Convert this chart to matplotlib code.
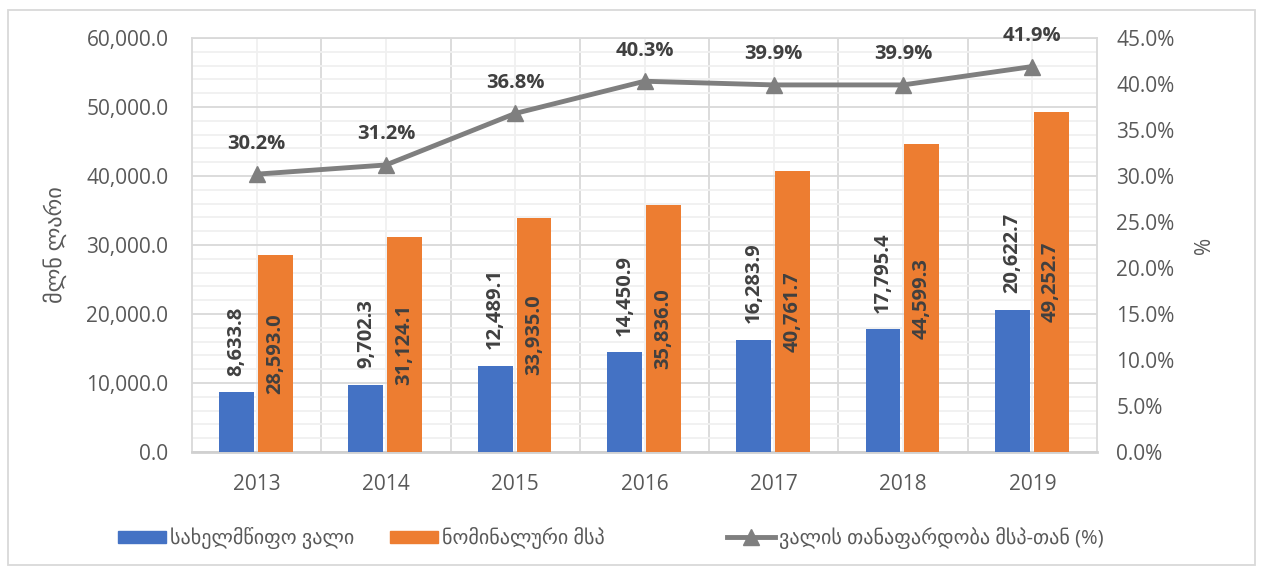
import matplotlib
matplotlib.use("Agg")
import matplotlib.pyplot as plt
from matplotlib.patches import Rectangle
from matplotlib.lines import Line2D
from matplotlib.patches import Patch
from matplotlib.ticker import FuncFormatter, MultipleLocator

plt.rcParams['font.family'] = ['Open Sans', 'DejaVu Sans']

years = ["2013", "2014", "2015", "2016", "2017", "2018", "2019"]
public_debt = [8633.8, 9702.3, 12489.1, 14450.9, 16283.9, 17795.4, 20622.7]
nominal_gdp = [28593.0, 31124.1, 33935.0, 35836.0, 40761.7, 44599.3, 49252.7]
debt_ratio = [30.2, 31.2, 36.8, 40.3, 39.9, 39.9, 41.9]

label_debt = "სახელმწიფო ვალი"
label_gdp = "ნომინალური მსპ"
label_ratio = "ვალის თანაფარდობა მსპ-თან (%)"
ylabel_left = "მლნ ლარი"
ylabel_right = "%"

BLUE = "#4472C4"
ORANGE = "#ED7D31"
GRAY = "#7F7F7F"
TXT = "#595959"
LBL = "#404040"
MAJ = "#D9D9D9"
MIN = "#F0F0F0"

fig = plt.figure(figsize=(12.61, 5.72), dpi=100)
ax = fig.add_axes([192/1261, 1-452/572, (1097-192)/1261, (452-38)/572])
ax2 = ax.twinx()

x = list(range(len(years)))
w = 0.27
xb = [i - 0.155 for i in x]
xo = [i + 0.145 for i in x]
ax.bar(xb, public_debt, width=w, color=BLUE, zorder=3)
ax.bar(xo, nominal_gdp, width=w, color=ORANGE, zorder=3)

ax.set_xlim(-0.5, len(years) - 0.5)
ax.set_ylim(0, 60000)
ax.yaxis.set_major_locator(MultipleLocator(10000))
ax.yaxis.set_minor_locator(MultipleLocator(2000))
ax.yaxis.set_major_formatter(FuncFormatter(lambda v, p: f"{v:,.1f}"))
ax.set_xticks(x)
ax.set_xticklabels(years)
ax.set_xticks([i + 0.5 for i in x[:-1]], minor=True)
ax.set_axisbelow(True)
ax.grid(which='major', axis='y', color=MAJ, lw=1.3, zorder=0)
ax.grid(which='minor', axis='y', color=MIN, lw=1.3, zorder=0)
ax.grid(which='minor', axis='x', color=MAJ, lw=1.3, zorder=0)
ax.grid(which='major', axis='x', color=MIN, lw=1.3, zorder=0)
ax.tick_params(which='both', length=0)
ax.tick_params(axis='y', labelsize=15, colors=TXT, pad=17)
ax.tick_params(axis='x', labelsize=15, colors=TXT, pad=16)
for s in ['left', 'right', 'top']:
    ax.spines[s].set_color(MAJ)
    ax.spines[s].set_linewidth(1.3)
ax.spines['bottom'].set_color("#D0D0D0")
ax.spines['bottom'].set_linewidth(2)
ax.set_ylabel(ylabel_left, fontsize=16, color=TXT, labelpad=14)

for xi, v in zip(xb, public_debt):
    ax.annotate(f"{v:,.1f}", (xi, v), xytext=(0, 12), textcoords='offset points',
                rotation=90, ha='center', va='bottom', fontsize=14.5,
                fontweight='bold', color=LBL, zorder=5)
for xi, v in zip(xo, nominal_gdp):
    ax.text(xi, v / 2, f"{v:,.1f}", rotation=90, ha='center', va='center',
            fontsize=14.5, fontweight='bold', color=LBL, zorder=5)

ax2.plot(x, debt_ratio, color=GRAY, lw=3.5, marker='^', markersize=11.5, zorder=4)
ax2.set_ylim(0, 45)
ax2.yaxis.set_major_locator(MultipleLocator(5))
ax2.yaxis.set_major_formatter(FuncFormatter(lambda v, p: f"{v:.1f}%"))
ax2.tick_params(which='both', length=0)
ax2.tick_params(axis='y', labelsize=15, colors=TXT, pad=14)
for s in ax2.spines.values():
    s.set_visible(False)
ax2.set_ylabel(ylabel_right, fontsize=15, color=TXT, labelpad=14)
for xi, v in zip(x, debt_ratio):
    ax2.annotate(f"{v:.1f}%", (xi, v), xytext=(0, 22), textcoords='offset points',
                 ha='center', va='center', fontsize=14.5, fontweight='bold', color=LBL)

entries = [
    (Patch(color=BLUE), label_debt, 118),
    (Patch(color=ORANGE), label_gdp, 390),
    (Line2D([0], [0], color=GRAY, lw=3.5, marker='^', markersize=11), label_ratio, 727),
]
for h, lab, px in entries:
    leg = fig.legend([h], [lab], loc='center left', bbox_to_anchor=(px/1261, 1-538/572),
                     frameon=False, fontsize=14.5, handlelength=2.4, handleheight=0.6,
                     handletextpad=0.2, borderpad=0, borderaxespad=0)
    for t in leg.get_texts():
        t.set_color(TXT)

fig.patches.append(Rectangle((8/1261, 1-565/572), (1255-8)/1261, (565-10)/572,
                             transform=fig.transFigure, fill=False, edgecolor=MAJ, lw=1.3))

fig.savefig("out.png", dpi=100)
